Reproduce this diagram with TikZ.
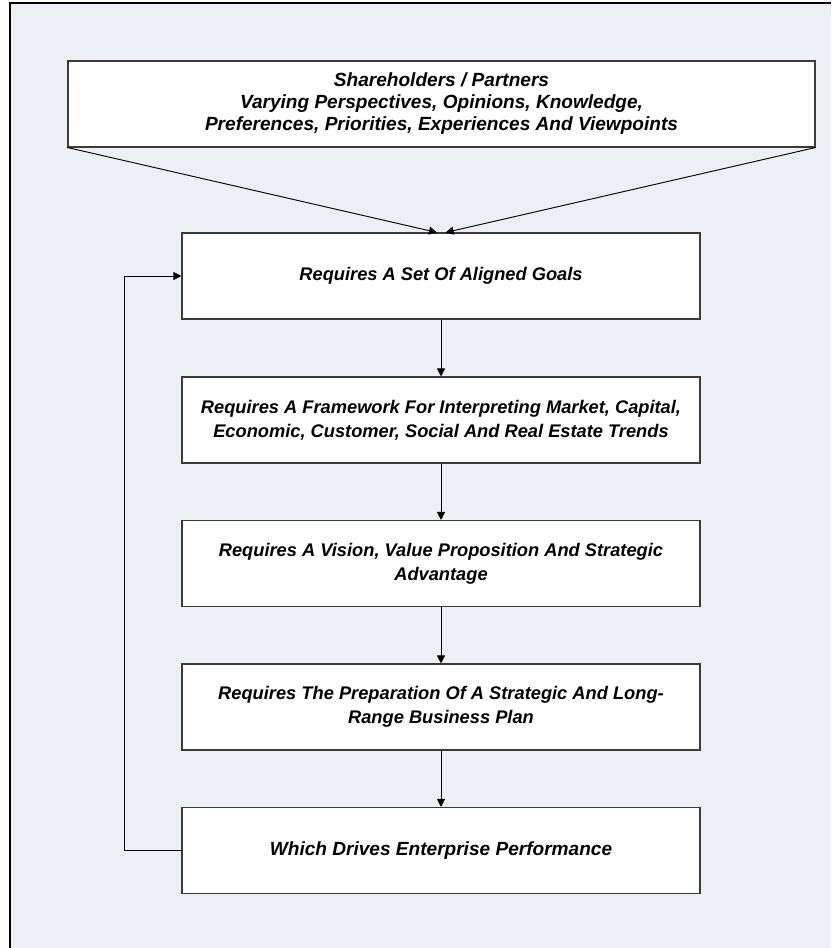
\documentclass[tikz,border=0pt]{standalone}
\usepackage{fontspec}
\setmainfont{Liberation Sans}
\usetikzlibrary{arrows.meta}
\definecolor{bgc}{HTML}{ECEFF4}
\definecolor{edgec}{HTML}{3A3A3A}
\begin{document}
\begin{tikzpicture}[x=0.75pt,y=-0.75pt,
  box/.style={draw=edgec, fill=white, line width=0.8pt, minimum width=388.5pt, minimum height=64.5pt,
    inner sep=0pt, align=center, font=\bfseries\itshape\fontsize{13.7}{18}\selectfont},
  topbox/.style={box, font=\bfseries\itshape\fontsize{14.3}{16.5}\selectfont},
  arr/.style={draw=black, line width=0.7pt, -{Triangle[length=6pt,width=6pt]}}]
\useasboundingbox (0,0) rectangle (831,948);
\fill[white] (0,0) rectangle (831,948);
\fill[bgc] (10,3) rectangle (831,948);
\draw[line width=0.8pt, black] (10,948) -- (10,3) -- (831,3);

\node[topbox, minimum width=560.25pt] (top) at (441.5,104)
  {Shareholders / Partners\\Varying Perspectives, Opinions, Knowledge,\\Preferences, Priorities, Experiences And Viewpoints};
\node[box] (b2) at (441,276) {Requires A Set Of Aligned Goals};
\node[box] (b3) at (441,420) {Requires A Framework For Interpreting Market, Capital,\\Economic, Customer, Social And Real Estate Trends};
\node[box] (b4) at (441,563.5) {Requires A Vision, Value Proposition And Strategic\\Advantage};
\node[box] (b5) at (441,707) {Requires The Preparation Of A Strategic And Long-\\Range Business Plan};
\node[topbox] (b6) at (441,850.5) {Which Drives Enterprise Performance};

\draw[arr] (top.south west) -- ([xshift=-3pt]b2.north);
\draw[arr] (top.south east) -- ([xshift=3.5pt]b2.north);
\draw[arr] (b2.south) -- (b3.north);
\draw[arr] (b3.south) -- (b4.north);
\draw[arr] (b4.south) -- (b5.north);
\draw[arr] (b5.south) -- (b6.north);
\draw[arr] (b6.west) -- ++(-57,0) |- (b2.west);
\end{tikzpicture}
\end{document}
